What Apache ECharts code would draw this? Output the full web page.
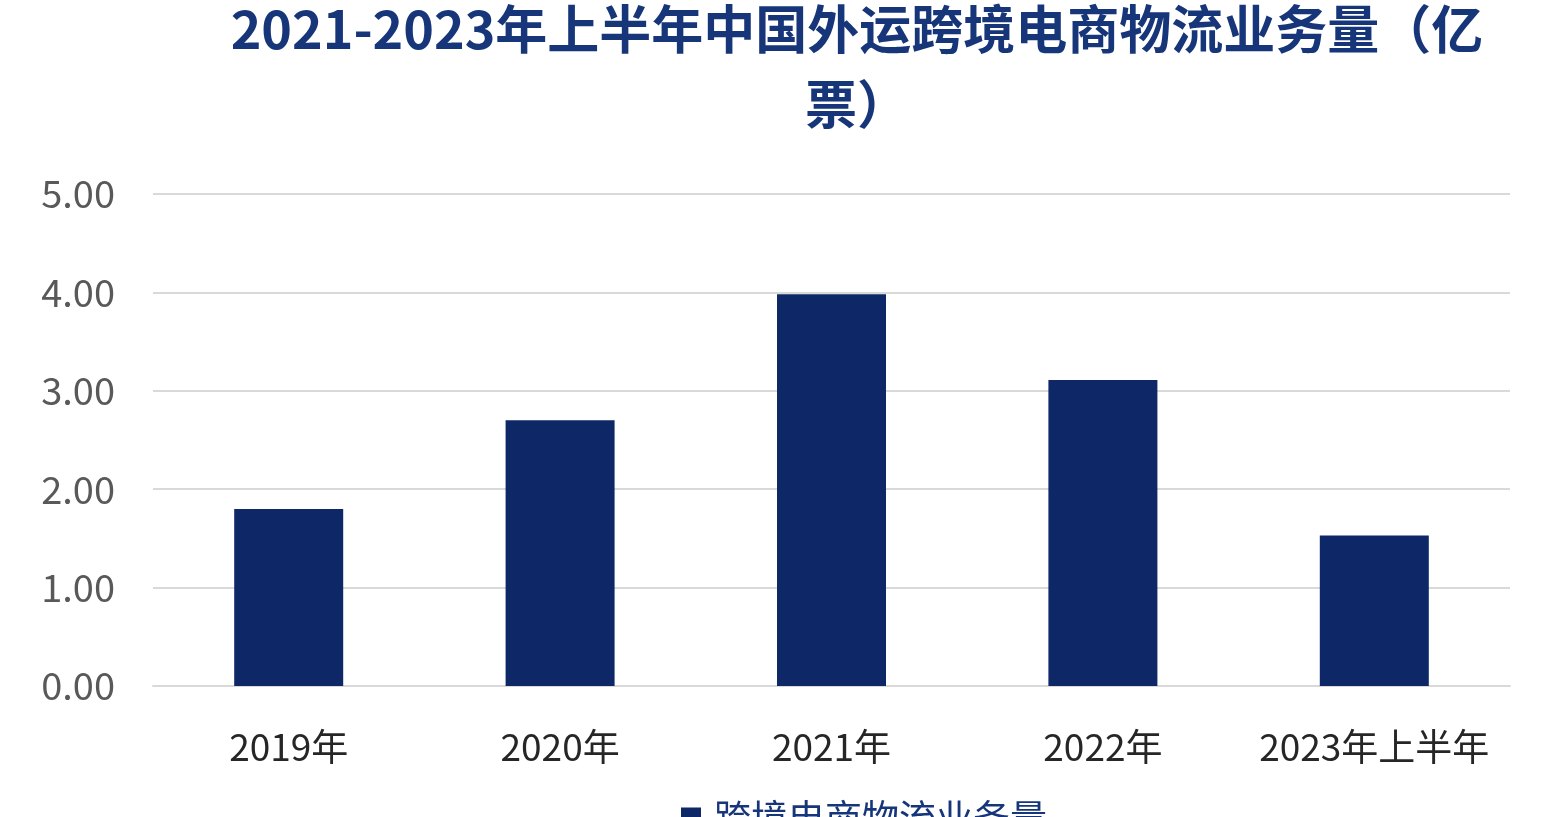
<!DOCTYPE html>
<html>
<head>
<meta charset="utf-8">
<script src="https://cdn.jsdelivr.net/npm/echarts@6/dist/echarts.min.js"></script>
<style>
  html, body { margin: 0; padding: 0; background: #ffffff; }
  #main { width: 1549px; height: 817px; }
</style>
</head>
<body>
<div id="main"></div>
<script>
// 数据
const categories = ['2019年', '2020年', '2021年', '2022年', '2023年上半年']
const volumes = [1.80, 2.70, 3.98, 3.11, 1.53]
const seriesName = '跨境电商物流业务量'
const titleText = '2021-2023年上半年中国外运跨境电商物流业务量（亿\n票）'

const chart = echarts.init(document.getElementById('main'))

const option = {
  backgroundColor: '#ffffff',
  textStyle: { fontFamily: 'Noto Sans CJK SC' },
  title: {
    text: titleText,
    left: 852,
    top: -13,
    textAlign: 'center',
    textStyle: {
      fontFamily: 'Noto Sans CJK SC',
      fontSize: 52,
      fontWeight: 'bold',
      color: '#17367A',
      lineHeight: 75
    }
  },
  legend: {
    top: 794,
    left: 676,
    icon: 'rect',
    itemWidth: 20,
    itemHeight: 20,
    itemGap: 14,
    textStyle: {
      fontSize: 37,
      color: '#17367A',
      padding: [0, 0, 0, 8]
    },
    data: [seriesName]
  },
  grid: {
    left: 153,
    right: 39,
    top: 194,
    bottom: 131
  },
  xAxis: {
    type: 'category',
    data: categories,
    axisTick: { show: false },
    axisLine: { lineStyle: { color: '#D9D9D9', width: 2 } },
    axisLabel: {
      interval: 0,
      fontSize: 37,
      color: '#262626',
      margin: 42
    }
  },
  yAxis: {
    type: 'value',
    min: 0,
    max: 5,
    interval: 1,
    axisLine: { show: false },
    axisTick: { show: false },
    splitLine: { lineStyle: { color: '#D9D9D9', width: 2 } },
    axisLabel: {
      fontSize: 38,
      color: '#595959',
      margin: 38,
      formatter: v => v.toFixed(2)
    }
  },
  series: [
    {
      name: seriesName,
      type: 'bar',
      data: volumes,
      barWidth: 109,
      itemStyle: { color: '#0D2767' }
    }
  ]
}

chart.setOption(option)
</script>
</body>
</html>
